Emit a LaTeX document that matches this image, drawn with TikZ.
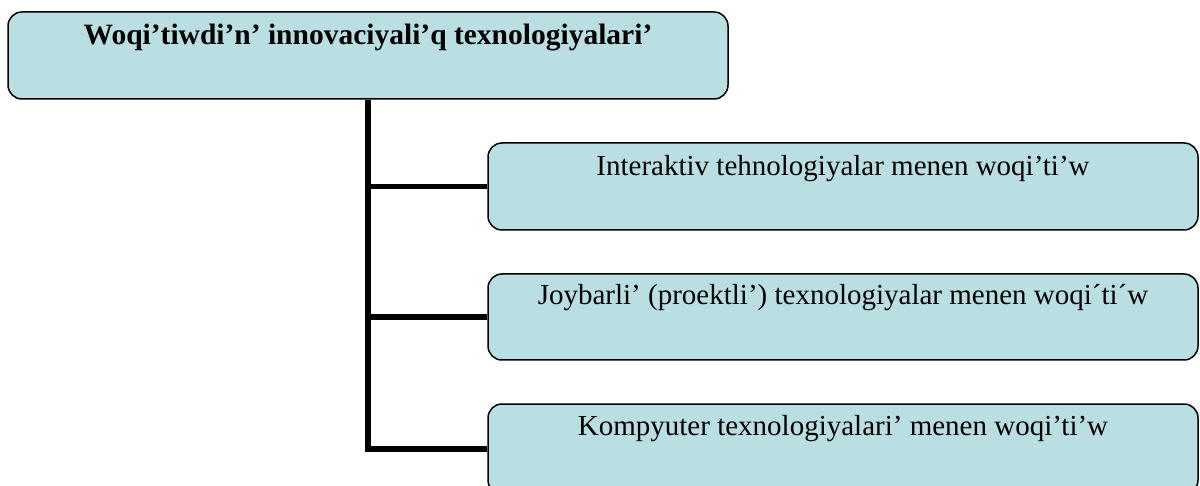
\documentclass[tikz,border=0pt]{standalone}
\usepackage{fontspec}
\setmainfont{Liberation Serif}
\definecolor{boxfill}{RGB}{185,223,227}
\begin{document}
\begin{tikzpicture}[x=1pt,y=-1pt,
  box/.style={draw=black, line width=1.5pt, rounded corners=14pt, fill=boxfill, inner sep=0pt},
  conn/.style={line width=5.5pt},
  lbl/.style={anchor=base, inner sep=0pt, font=\fontsize{29}{34}\selectfont},
  toplbl/.style={anchor=base, inner sep=0pt, font=\fontsize{29.5}{35}\selectfont\bfseries}]
\useasboundingbox (0,0) rectangle (1200,486);
\node[box, minimum width=720pt, minimum height=87pt] (top) at (368,55.5) {};
\node[box, minimum width=710pt, minimum height=87pt] (b1) at (843,186.5) {};
\node[box, minimum width=710pt, minimum height=86pt] (b2) at (843,317) {};
\node[box, minimum width=710pt, minimum height=90pt] (b3) at (843,449) {};
\draw[conn] (top.south) -- (top.south |- b3.west) -- (b3.west);
\draw[conn] (top.south |- b1.west) -- (b1.west);
\draw[conn] (top.south |- b2.west) -- (b2.west);
\node[toplbl] (t0) at ([yshift=-33pt]top.north) {Woqi’tiwdi’n’ innovaciyali’q texnologiyalari’};
\node[lbl] (t1) at ([yshift=-33pt]b1.north) {Interaktiv tehnologiyalar menen woqi’ti’w};
\node[lbl] (t2) at ([yshift=-31pt]b2.north) {Joybarli’ (proektli’) texnologiyalar menen woqi´ti´w};
\node[lbl] (t3) at ([yshift=-32pt]b3.north) {Kompyuter texnologiyalari’ menen woqi’ti’w};
\end{tikzpicture}
\end{document}
